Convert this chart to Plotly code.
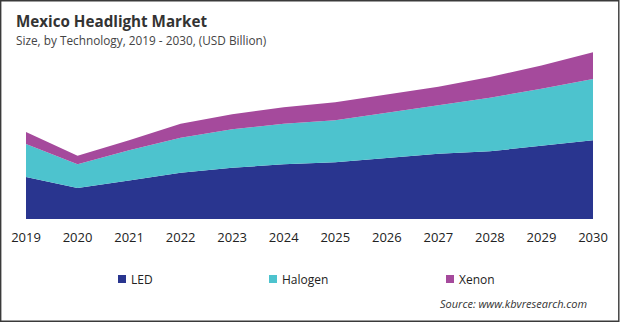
import plotly.graph_objects as go

# Market size by technology, USD Billion
years = [2019, 2020, 2021, 2022, 2023, 2024, 2025, 2026, 2027, 2028, 2029, 2030]
led = [0.42, 0.31, 0.385, 0.46, 0.51, 0.545, 0.565, 0.605, 0.65, 0.675, 0.73, 0.785]
halogen = [0.327, 0.237, 0.30, 0.35, 0.385, 0.405, 0.42, 0.455, 0.485, 0.535, 0.57, 0.61]
xenon = [0.12, 0.083, 0.10, 0.14, 0.15, 0.165, 0.18, 0.185, 0.185, 0.205, 0.23, 0.267]

series = [("LED", led, "#29358F"), ("Halogen", halogen, "#4DC3CE"), ("Xenon", xenon, "#A54A9C")]

W, H = 620, 322
ML, MR, MT, MB = 26, 27, 40, 103
PW, PH = W - ML - MR, H - MT - MB


def px(x):
    return (x - ML) / PW


def py(y):
    return (H - MB - y) / PH


FONT = "Open Sans"

fig = go.Figure()
for name, vals, color in series:
    fig.add_trace(go.Scatter(
        x=years, y=vals, name=name, mode="lines", stackgroup="one",
        line=dict(width=0, color=color), fillcolor=color, showlegend=False,
        hoverinfo="x+y+name",
    ))

shapes = []
annotations = []

# Legend: colour swatch + label
legend_pos = [118, 269, 446]
for (name, _, color), x0 in zip(series, legend_pos):
    shapes.append(dict(type="rect", xref="paper", yref="paper",
                       x0=px(x0), x1=px(x0 + 8), y0=py(283), y1=py(275),
                       fillcolor=color, line=dict(width=0)))
    annotations.append(dict(text=name, xref="paper", yref="paper",
                            x=px(x0 + 11), y=py(279), xanchor="left", yanchor="middle",
                            showarrow=False, font=dict(family=FONT, size=12, color="#222222")))

# Thin frame around the whole figure
shapes.append(dict(type="rect", xref="paper", yref="paper",
                   x0=px(0.7), x1=px(618.8), y0=py(321.3), y1=py(0.7),
                   line=dict(color="#3a3a3a", width=1.4), fillcolor="rgba(0,0,0,0)"))

annotations += [
    dict(text="<b>Mexico Headlight Market</b>", xref="paper", yref="paper",
         x=px(14), y=py(21), xanchor="left", yanchor="middle", showarrow=False,
         font=dict(family=FONT, size=15.2, color="#333333")),
    dict(text="Size, by Technology, 2019 - 2030, (USD Billion)", xref="paper", yref="paper",
         x=px(14), y=py(40), xanchor="left", yanchor="middle", showarrow=False,
         font=dict(family=FONT, size=11.8, color="#444444")),
    dict(text="<i>Source: www.kbvresearch.com</i>", xref="paper", yref="paper",
         x=px(589), y=py(303), xanchor="right", yanchor="middle", showarrow=False,
         font=dict(family=FONT, size=11, color="#333333")),
]

fig.update_layout(
    width=W, height=H,
    margin=dict(l=ML, r=MR, t=MT, b=MB),
    paper_bgcolor="white", plot_bgcolor="white",
    showlegend=False,
    shapes=shapes, annotations=annotations,
    xaxis=dict(range=[2019, 2030], tickmode="array", tickvals=years,
               ticktext=[str(y) for y in years], showgrid=False, zeroline=False,
               showline=False, ticks="", ticklabelstandoff=9,
               tickfont=dict(family=FONT, size=13, color="#222222")),
    yaxis=dict(range=[0, 1.785], visible=False, showgrid=False, zeroline=False),
)

fig.write_html("out.html")
